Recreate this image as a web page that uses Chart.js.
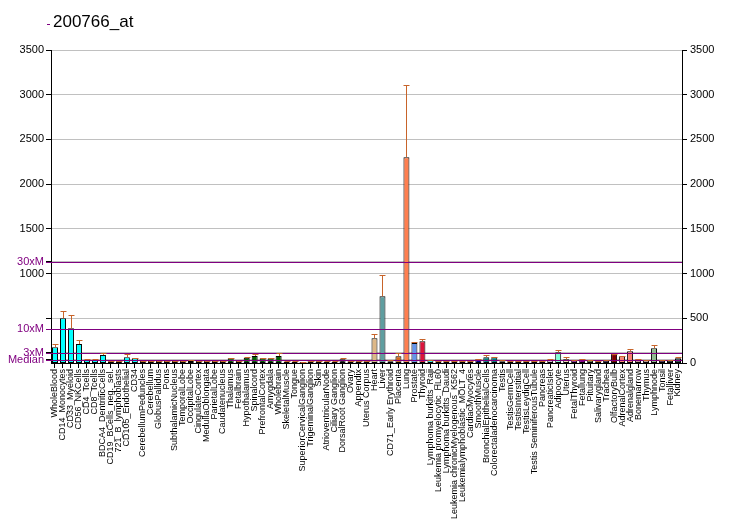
<!DOCTYPE html>
<html>
<head>
<meta charset="utf-8">
<script src="https://cdn.jsdelivr.net/npm/chart.js@4.4.1/dist/chart.umd.min.js"></script>
<style>
  html, body { margin: 0; padding: 0; background: #fff; }
  #wrap { width: 732px; height: 530px; }
</style>
</head>
<body>
<div id="wrap"><canvas id="chart" width="732" height="530"></canvas></div>
<script>
const title = "200766_at";

const tissues = [
  "WholeBlood", "CD14_Monocytes", "CD33_Myeloid", "CD56_NKCells", "CD4_Tcells", "CD8_Tcells",
  "BDCA4_DentriticCells", "CD19_BCells_neg._sel.", "721_B_lymphoblasts", "CD105_Endothelial", "CD34",
  "CerebellumPeduncles", "Cerebellum", "GlobusPallidus", "Pons", "SubthalamicNucleus", "TemporalLobe",
  "OccipitalLobe", "CingulateCortex", "MedullaOblongata", "ParietalLobe", "Caudatenucleus", "Thalamus",
  "Fetalbrain", "Hypothalamus", "Spinalcord", "PrefrontalCortex", "Amygdala", "Wholebrain",
  "SkeletalMuscle", "Tongue", "SuperiorCervicalGanglion", "TrigeminalGanglion", "Skin",
  "AtrioventricularNode", "Ciliary Ganglion", "DorsalRoot Ganglion", "Ovary", "Appendix", "Uterus Corpus",
  "Heart", "Liver", "CD71_Early Erythroid", "Placenta", "Lung", "Prostate", "Thyroid",
  "Lymphoma burkitts_Raji", "Leukemia promyelocytic_HL60", "Lymphoma burkitts_Daudi",
  "Leukemia chronicMyelogenous_K562", "Leukemialymphoblastic_MOLT_4", "CardiacMyocytes", "SmoothMuscle",
  "BronchialEpithelialCells", "Colorectaladenocarcinoma", "Testis", "TestisGermCell", "TestisInterstitial",
  "TestisLeydigCell", "Testis SeminiferousTubule", "Pancreas", "PancreaticIslet", "Adipocyte", "Uterus",
  "FetalThyroid", "Fetallung", "Pituitary", "Salivarygland", "Trachea", "OlfactoryBulb", "AdrenalCortex",
  "Adrenalgland", "Bonemarrow", "Thymus", "Lymphnode", "Tonsil", "Fetalliver", "Kidney"
];

const values = [
  176, 500, 388, 212, 34, 34, 90, 20, 20, 64, 52,
  22, 22, 22, 22, 22, 22, 22, 22, 22, 22, 22, 52, 22, 59, 78, 52, 52, 78,
  15, 15, 10, 20, 20, 15, 15, 41, 20, 20, 20,
  276, 746, 20, 75, 2300, 224, 243,
  30, 20, 20, 20, 20, 20, 41, 64, 64,
  20, 20, 20, 20, 20, 20, 30, 120, 41,
  30, 40, 30, 20, 25, 100, 75, 130, 40, 30, 164, 25, 25, 52
];

const errTop = [
  213, 578, 537, 254, 40, 40, 108, 24, 24, 100, 56,
  25, 25, 25, 25, 25, 25, 30, 25, 25, 25, 25, 60, 25, 65, 100, 56, 56, 110,
  18, 18, 12, 22, 22, 18, 18, 56, 22, 22, 22,
  321, 981, 35, 108, 3105, 232, 272,
  33, 22, 22, 22, 22, 22, 44, 90, 68,
  30, 22, 22, 22, 22, 24, 40, 142, 66,
  34, 44, 34, 22, 28, 104, 80, 153, 44, 34, 201, 28, 28, 66
];

const barColors = [
  "#00ffff", "#00ffff", "#00ffff", "#00ffff", "#00ffff", "#00ffff", "#00ffff", "#00ffff", "#00ffff", "#00ffff", "#00ffff",
  "#006400", "#006400", "#006400", "#006400", "#006400", "#006400", "#006400", "#006400", "#006400", "#006400",
  "#006400", "#006400", "#006400", "#006400", "#006400", "#006400", "#006400", "#006400",
  "#ffe4c4", "#ffe4c4", "#000000", "#000000", "#000000", "#1a1a1a", "#1a1a1a", "#2f2f2f",
  "#0000ff", "#9932cc", "#ff4500",
  "#deb887", "#5f9ea0", "#adff2f", "#d2691e", "#ff7f50", "#6495ed", "#dc143c",
  "#00ffff", "#00ffff", "#00ffff", "#00ffff", "#00ffff", "#00008b", "#00008b", "#008080", "#008080",
  "#daa520", "#daa520", "#daa520", "#daa520", "#ff8c00", "#d8bfd8", "#d8bfd8", "#7fffd4", "#f5deb3",
  "#8b008b", "#8b008b", "#556b2f", "#ff8c00", "#9932cc", "#800000", "#fa8072", "#fa8072", "#bc8f8f",
  "#bc8f8f", "#8fbc8f", "#9932cc", "#2f4f4f", "#2f4f4f"
];

// left axis: normal ticks plus the median multiples
const leftTicks = [38, 113, 377, 500, 1000, 1130, 1500, 2000, 2500, 3000, 3500];
const leftTickLabels = ["Median", "3xM", "10xM", "", "1000", "30xM", "1500", "2000", "2500", "3000", "3500"];
const markerTicks = [38, 113, 377, 1130];

const purple = "#800080";
const fontName = '"Liberation Sans", Arial, sans-serif';
const isMarker = leftTicks.map(v => markerTicks.includes(v));

// purple median lines, drawn over the bars and out across the left tick area
const markerLines = {
  id: "markerLines",
  afterDatasetsDraw(chart) {
    const ctx = chart.ctx;
    const y = chart.scales.y;
    const area = chart.chartArea;
    ctx.save();
    ctx.strokeStyle = purple;
    ctx.lineWidth = 1;
    markerTicks.forEach(v => {
      const py = Math.round(y.getPixelForValue(v)) + 0.5;
      ctx.beginPath();
      ctx.moveTo(area.left - 5, py);
      ctx.lineTo(area.right, py);
      ctx.stroke();
    });
    ctx.restore();
  }
};

const errorBars = {
  id: "errorBars",
  afterDatasetsDraw(chart) {
    const ctx = chart.ctx;
    const meta = chart.getDatasetMeta(0);
    const y = chart.scales.y;
    ctx.save();
    ctx.strokeStyle = "#c8642a";
    ctx.lineWidth = 1;
    meta.data.forEach((bar, i) => {
      const top = Math.round(y.getPixelForValue(errTop[i])) + 0.5;
      const base = y.getPixelForValue(values[i]);
      const x = Math.round(bar.x) + 0.5;
      const half = bar.width / 2;
      ctx.beginPath();
      ctx.moveTo(x, base);
      ctx.lineTo(x, top);
      ctx.moveTo(x - half, top);
      ctx.lineTo(x + half, top);
      ctx.stroke();
    });
    ctx.restore();
  }
};

const titlePlugin = {
  id: "titleText",
  afterDraw(chart) {
    const ctx = chart.ctx;
    ctx.save();
    ctx.strokeStyle = purple;
    ctx.beginPath();
    ctx.moveTo(47, 24.5);
    ctx.lineTo(50, 24.5);
    ctx.stroke();
    ctx.fillStyle = "#000";
    ctx.font = "17px " + fontName;
    ctx.textBaseline = "alphabetic";
    ctx.fillText(title, 53, 27);
    ctx.restore();
  }
};

new Chart(document.getElementById("chart"), {
  type: "bar",
  data: {
    labels: tissues,
    datasets: [{
      data: values,
      backgroundColor: barColors,
      borderColor: "#000",
      borderWidth: 1,
      borderSkipped: false,
      barPercentage: 0.75,
      categoryPercentage: 1,
      yAxisID: "y"
    }]
  },
  options: {
    responsive: false,
    animation: false,
    devicePixelRatio: 1,
    layout: { padding: { top: 50, left: 0, right: 0, bottom: 0 } },
    plugins: { legend: { display: false }, tooltip: { enabled: false }, title: { display: false } },
    scales: {
      x: {
        offset: true,
        grid: { display: true, drawOnChartArea: false, offset: false, tickLength: 5, tickColor: "#000" },
        border: { color: "#000" },
        ticks: {
          autoSkip: false, minRotation: 90, maxRotation: 90, padding: 1,
          color: "#000", font: { family: fontName, size: 9 }
        },
        afterFit(axis) { axis.height = 167; }
      },
      y: {
        position: "left",
        min: 0, max: 3500,
        afterBuildTicks(axis) { axis.ticks = leftTicks.map(v => ({ value: v })); },
        ticks: {
          autoSkip: false, padding: 2,
          font: { family: fontName, size: 11 },
          color: isMarker.map(m => m ? purple : "#000"),
          callback: v => leftTickLabels[leftTicks.indexOf(v)]
        },
        grid: {
          tickLength: 5,
          color: "#c0c0c0",
          tickColor: "#000"
        },
        border: { color: "#000" },
        afterFit(axis) { axis.width = 51; }
      },
      y2: {
        position: "right",
        min: 0, max: 3500,
        ticks: {
          stepSize: 500, padding: 3, color: "#000",
          font: { family: fontName, size: 11 },
          callback: v => String(v)
        },
        grid: { drawOnChartArea: false, tickLength: 5, tickColor: "#000" },
        border: { color: "#000" },
        afterFit(axis) { axis.width = 50; }
      }
    }
  },
  plugins: [markerLines, errorBars, titlePlugin]
});
</script>
</body>
</html>
